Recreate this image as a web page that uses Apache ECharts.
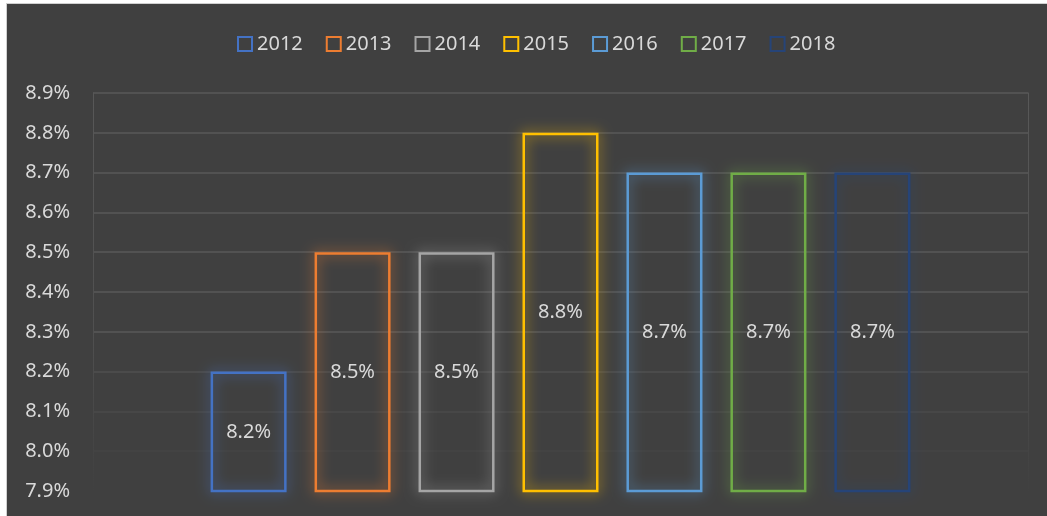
<!DOCTYPE html>
<html>
<head>
<meta charset="utf-8">
<script src="https://cdn.jsdelivr.net/npm/echarts@6/dist/echarts.min.js"></script>
<style>
  html, body { margin: 0; padding: 0; background: #ffffff; }
  #chart {
    position: absolute; left: 6px; top: 3px;
    width: 1040px; height: 512px;
    border-left: 1px solid #d0d0d0; border-top: 1px solid #d0d0d0;
    background: #404040;
  }
</style>
</head>
<body>
<div id="chart"></div>
<script>
// data
var years = ['2012', '2013', '2014', '2015', '2016', '2017', '2018'];
var rates = [8.2, 8.5, 8.5, 8.8, 8.7, 8.7, 8.7];
var yearColors = ['#4472C4', '#ED7D31', '#A5A5A5', '#FFC000', '#5B9BD5', '#70AD47', '#264478'];
var yMin = 7.9, yMax = 8.9, yStep = 0.1;

var font = 'Noto Sans';
var textColor = '#d9d9d9';

// lower grid lines fade out, from 7.9% upward
var gridColors = ['rgba(0,0,0,0)', '#454545', '#4a4a4a', '#4f4f4f', '#585858',
  '#585858', '#585858', '#585858', '#585858', '#585858', '#585858'];

var fadeLine = {
  type: 'linear', x: 0, y: 0, x2: 0, y2: 1,
  colorStops: [{offset: 0, color: '#585858'}, {offset: 0.6, color: '#505050'}, {offset: 1, color: '#404040'}]
};

var chart = echarts.init(document.getElementById('chart'));

var series = years.map(function (y, i) {
  return {
    name: y,
    type: 'bar',
    data: [rates[i]],
    barWidth: 76,
    barGap: '36.8%',
    itemStyle: {
      color: 'rgba(0,0,0,0)',
      borderColor: yearColors[i],
      borderWidth: 2.5,
      shadowBlur: 13,
      shadowColor: yearColors[i]
    },
    label: {
      show: true,
      position: 'inside',
      formatter: function (p) { return p.value.toFixed(1) + '%'; },
      color: textColor,
      fontFamily: font,
      fontSize: 20
    }
  };
});

chart.setOption({
  animation: false,
  backgroundColor: '#404040',
  legend: {
    data: years,
    icon: 'rect',
    left: 225,
    top: 25,
    itemWidth: 14,
    itemHeight: 14,
    itemGap: 23,
    textStyle: {color: textColor, fontFamily: font, fontSize: 20}
  },
  grid: {left: 86, top: 89, width: 935, height: 398},
  xAxis: {
    type: 'category',
    data: [''],
    axisLine: {show: false},
    axisTick: {show: false},
    axisLabel: {show: false}
  },
  yAxis: [{
    type: 'value',
    min: yMin,
    max: yMax,
    interval: yStep,
    axisLine: {show: true, lineStyle: {color: fadeLine, width: 1}},
    axisTick: {show: false},
    axisLabel: {
      color: textColor, fontFamily: font, fontSize: 20, margin: 23,
      formatter: function (v) { return v.toFixed(1) + '%'; }
    },
    splitLine: {lineStyle: {color: gridColors, width: 1.5}}
  }, {
    type: 'value',
    position: 'right',
    min: yMin,
    max: yMax,
    interval: yStep,
    axisLine: {show: true, lineStyle: {color: fadeLine, width: 1}},
    axisTick: {show: false},
    axisLabel: {show: false},
    splitLine: {show: false}
  }],
  series: series
});
</script>
</body>
</html>
